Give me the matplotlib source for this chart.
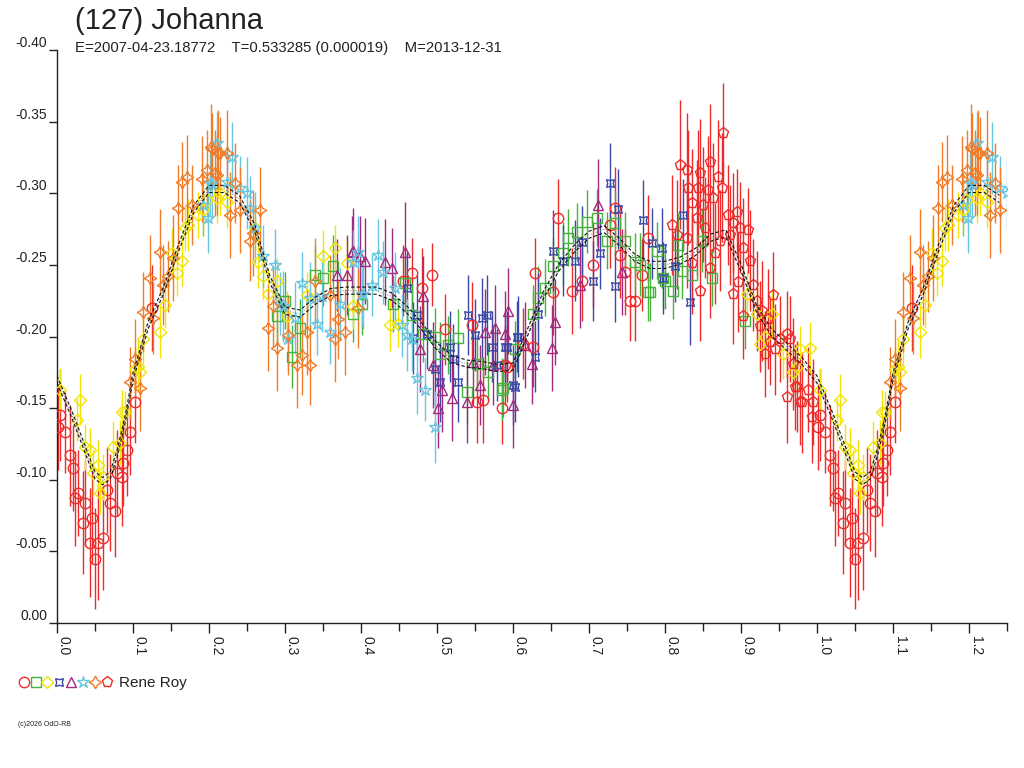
import numpy as np
import matplotlib
matplotlib.use('Agg')
import matplotlib.pyplot as plt
from matplotlib.ticker import FormatStrFormatter, MultipleLocator
from matplotlib.legend_handler import HandlerTuple

# phase, magnitude, error for each session
red_circ_phase = [0.001, 0.004, 0.011, 0.017, 0.021, 0.024, 0.028, 0.034, 0.037, 0.043, 0.046, 0.050,
                  0.054, 0.061, 0.066, 0.070, 0.076, 0.079, 0.086, 0.087, 0.092, 0.096, 0.103, 0.125,
                  0.455, 0.467, 0.480, 0.493, 0.511, 0.546, 0.553, 0.561, 0.586, 0.589, 0.592, 0.613,
                  0.626, 0.629, 0.653, 0.659, 0.678, 0.691, 0.705, 0.728, 0.734, 0.741, 0.747, 0.754,
                  0.761, 0.770, 0.778]
red_circ_mag = [-0.137, -0.145, -0.133, -0.117, -0.108, -0.087, -0.091, -0.070, -0.084, -0.056, -0.073, -0.045,
                -0.056, -0.059, -0.093, -0.084, -0.078, -0.105, -0.102, -0.112, -0.121, -0.133, -0.154, -0.220,
                -0.239, -0.244, -0.234, -0.243, -0.205, -0.208, -0.154, -0.156, -0.150, -0.180, -0.179, -0.195,
                -0.193, -0.244, -0.231, -0.283, -0.232, -0.239, -0.250, -0.278, -0.290, -0.257, -0.245, -0.225,
                -0.225, -0.243, -0.269]
red_circ_err = [0.030, 0.032, 0.028, 0.035, 0.030, 0.033, 0.030, 0.036, 0.030, 0.038, 0.032, 0.035,
                0.040, 0.036, 0.030, 0.034, 0.032, 0.030, 0.034, 0.030, 0.032, 0.030, 0.028, 0.030,
                0.025, 0.025, 0.028, 0.022, 0.025, 0.030, 0.028, 0.030, 0.025, 0.028, 0.025, 0.025,
                0.028, 0.025, 0.030, 0.027, 0.030, 0.028, 0.030, 0.030, 0.028, 0.030, 0.030, 0.028,
                0.028, 0.025, 0.030]

green_phase = [0.289, 0.300, 0.309, 0.320, 0.339, 0.350, 0.363, 0.389, 0.401, 0.442, 0.458, 0.467,
               0.482, 0.497, 0.504, 0.514, 0.528, 0.539, 0.553, 0.567, 0.586, 0.587, 0.603, 0.626,
               0.633, 0.642, 0.653, 0.666, 0.672, 0.684, 0.697, 0.711, 0.724, 0.734, 0.747, 0.761,
               0.767, 0.778, 0.780, 0.789, 0.797, 0.800, 0.811, 0.817, 0.822, 0.836, 0.849, 0.862, 0.905]
green_mag = [-0.214, -0.225, -0.186, -0.206, -0.243, -0.241, -0.249, -0.216, -0.223, -0.223, -0.237, -0.215,
             -0.202, -0.200, -0.188, -0.194, -0.199, -0.161, -0.181, -0.175, -0.163, -0.164, -0.191, -0.216,
             -0.227, -0.234, -0.249, -0.258, -0.269, -0.273, -0.280, -0.283, -0.267, -0.279, -0.267, -0.252,
             -0.250, -0.231, -0.231, -0.260, -0.241, -0.239, -0.232, -0.264, -0.246, -0.243, -0.267, -0.241, -0.211]
green_err = [0.020, 0.020, 0.022, 0.020, 0.020, 0.020, 0.022, 0.020, 0.022, 0.020, 0.020, 0.022,
             0.020, 0.020, 0.022, 0.020, 0.020, 0.022, 0.020, 0.020, 0.022, 0.020, 0.020, 0.020,
             0.022, 0.020, 0.020, 0.022, 0.020, 0.020, 0.022, 0.020, 0.020, 0.022, 0.020, 0.020,
             0.022, 0.020, 0.020, 0.020, 0.022, 0.020, 0.020, 0.022, 0.020, 0.020, 0.022, 0.020, 0.020]

yellow_phase = [0.004, 0.026, 0.030, 0.037, 0.043, 0.047, 0.054, 0.057, 0.061, 0.074, 0.083, 0.086,
                0.089, 0.103, 0.107, 0.109, 0.113, 0.136, 0.142, 0.151, 0.158, 0.164, 0.168, 0.172,
                0.186, 0.192, 0.197, 0.210, 0.214, 0.224, 0.261, 0.264, 0.271, 0.278, 0.289, 0.303,
                0.329, 0.350, 0.366, 0.382, 0.389, 0.438, 0.449, 0.908, 0.921, 0.925, 0.932, 0.941,
                0.955, 0.968, 0.974, 0.978, 0.991]
yellow_mag = [-0.163, -0.142, -0.156, -0.123, -0.121, -0.105, -0.110, -0.091, -0.102, -0.123, -0.126, -0.147,
              -0.147, -0.177, -0.179, -0.175, -0.198, -0.203, -0.222, -0.258, -0.244, -0.253, -0.276, -0.278,
              -0.285, -0.288, -0.295, -0.297, -0.300, -0.294, -0.276, -0.252, -0.242, -0.230, -0.239, -0.214,
              -0.229, -0.256, -0.262, -0.251, -0.221, -0.208, -0.209, -0.230, -0.216, -0.195, -0.200, -0.216,
              -0.188, -0.175, -0.179, -0.191, -0.192]
yellow_err = [0.015, 0.015, 0.018, 0.016, 0.015, 0.016, 0.018, 0.015, 0.016, 0.018, 0.016, 0.016,
              0.015, 0.016, 0.018, 0.016, 0.018, 0.018, 0.016, 0.018, 0.016, 0.018, 0.016, 0.018,
              0.016, 0.018, 0.016, 0.018, 0.016, 0.018, 0.016, 0.018, 0.016, 0.018, 0.016, 0.018,
              0.016, 0.018, 0.016, 0.018, 0.016, 0.018, 0.016, 0.016, 0.018, 0.016, 0.018, 0.016,
              0.018, 0.016, 0.018, 0.016, 0.018]

blue_phase = [0.460, 0.468, 0.474, 0.487, 0.497, 0.504, 0.517, 0.521, 0.528, 0.541, 0.550, 0.559,
              0.566, 0.572, 0.579, 0.589, 0.592, 0.600, 0.603, 0.605, 0.607, 0.629, 0.633, 0.653,
              0.666, 0.682, 0.691, 0.705, 0.714, 0.728, 0.734, 0.738, 0.771, 0.783, 0.796, 0.797,
              0.813, 0.824, 0.833]
blue_mag = [-0.234, -0.199, -0.215, -0.202, -0.177, -0.168, -0.193, -0.184, -0.168, -0.215, -0.201, -0.213,
            -0.215, -0.193, -0.180, -0.193, -0.193, -0.166, -0.165, -0.200, -0.200, -0.186, -0.216, -0.260,
            -0.253, -0.253, -0.266, -0.239, -0.258, -0.307, -0.235, -0.289, -0.281, -0.265, -0.262, -0.241,
            -0.249, -0.285, -0.224]
blue_err = [0.025, 0.025, 0.028, 0.025, 0.025, 0.028, 0.025, 0.025, 0.028, 0.028, 0.025, 0.028,
            0.028, 0.025, 0.025, 0.025, 0.025, 0.028, 0.025, 0.025, 0.028, 0.025, 0.028, 0.028,
            0.025, 0.028, 0.025, 0.028, 0.025, 0.028, 0.025, 0.028, 0.028, 0.025, 0.028, 0.025,
            0.025, 0.025, 0.030]

purple_phase = [0.368, 0.382, 0.388, 0.389, 0.399, 0.405, 0.432, 0.441, 0.458, 0.478, 0.482, 0.495,
                0.501, 0.507, 0.520, 0.539, 0.547, 0.557, 0.563, 0.574, 0.576, 0.589, 0.593, 0.600,
                0.616, 0.625, 0.651, 0.655, 0.688, 0.712, 0.743]
purple_mag = [-0.243, -0.243, -0.259, -0.260, -0.256, -0.253, -0.252, -0.248, -0.259, -0.191, -0.228, -0.180,
              -0.150, -0.163, -0.157, -0.154, -0.182, -0.166, -0.203, -0.180, -0.206, -0.202, -0.218, -0.152,
              -0.194, -0.181, -0.192, -0.210, -0.236, -0.292, -0.245]
purple_err = [0.025, 0.028, 0.025, 0.030, 0.028, 0.030, 0.030, 0.028, 0.035, 0.030, 0.028, 0.030,
              0.028, 0.030, 0.030, 0.028, 0.030, 0.028, 0.030, 0.028, 0.030, 0.030, 0.030, 0.030,
              0.030, 0.028, 0.030, 0.030, 0.030, 0.032, 0.030]

cyan_phase = [0.192, 0.199, 0.201, 0.204, 0.210, 0.224, 0.230, 0.241, 0.250, 0.254, 0.261, 0.271,
              0.287, 0.293, 0.297, 0.304, 0.313, 0.322, 0.333, 0.342, 0.349, 0.359, 0.372, 0.389,
              0.396, 0.401, 0.403, 0.414, 0.422, 0.429, 0.445, 0.454, 0.460, 0.467, 0.474, 0.484, 0.497]
cyan_mag = [-0.292, -0.283, -0.307, -0.307, -0.335, -0.308, -0.325, -0.304, -0.300, -0.290, -0.276, -0.256,
            -0.250, -0.223, -0.221, -0.198, -0.213, -0.237, -0.227, -0.209, -0.228, -0.203, -0.223, -0.252,
            -0.259, -0.230, -0.230, -0.236, -0.257, -0.245, -0.234, -0.208, -0.201, -0.198, -0.171, -0.163, -0.137]
cyan_err = [0.022, 0.025, 0.022, 0.025, 0.022, 0.025, 0.025, 0.022, 0.025, 0.022, 0.025, 0.022,
            0.025, 0.022, 0.025, 0.022, 0.025, 0.022, 0.025, 0.022, 0.025, 0.022, 0.025, 0.022,
            0.025, 0.022, 0.025, 0.022, 0.025, 0.022, 0.025, 0.022, 0.025, 0.022, 0.025, 0.022, 0.025]

orange_phase = [0.096, 0.103, 0.109, 0.113, 0.122, 0.126, 0.136, 0.139, 0.146, 0.153, 0.159, 0.164,
                0.171, 0.178, 0.191, 0.197, 0.203, 0.204, 0.208, 0.210, 0.212, 0.214, 0.224, 0.228,
                0.234, 0.241, 0.254, 0.258, 0.267, 0.278, 0.284, 0.289, 0.304, 0.316, 0.322, 0.329,
                0.333, 0.339, 0.359, 0.366, 0.370, 0.379, 0.396]
orange_mag = [-0.168, -0.184, -0.164, -0.217, -0.241, -0.213, -0.259, -0.236, -0.242, -0.255, -0.290, -0.308,
              -0.311, -0.292, -0.310, -0.316, -0.332, -0.331, -0.314, -0.313, -0.328, -0.328, -0.328, -0.285,
              -0.307, -0.288, -0.267, -0.272, -0.288, -0.206, -0.221, -0.192, -0.201, -0.180, -0.187, -0.203,
              -0.180, -0.239, -0.229, -0.198, -0.212, -0.203, -0.220]
orange_err = [0.025, 0.028, 0.030, 0.028, 0.030, 0.025, 0.030, 0.028, 0.025, 0.030, 0.030, 0.028,
              0.030, 0.028, 0.030, 0.028, 0.030, 0.025, 0.030, 0.028, 0.030, 0.025, 0.030, 0.030,
              0.028, 0.030, 0.028, 0.030, 0.030, 0.030, 0.028, 0.030, 0.028, 0.030, 0.028, 0.030,
              0.028, 0.030, 0.028, 0.030, 0.028, 0.030, 0.028]

red_pent_phase = [0.809, 0.816, 0.820, 0.829, 0.829, 0.830, 0.836, 0.836, 0.842, 0.843, 0.846, 0.846,
                  0.850, 0.853, 0.857, 0.859, 0.859, 0.863, 0.866, 0.870, 0.872, 0.875, 0.876, 0.883,
                  0.886, 0.889, 0.889, 0.895, 0.896, 0.899, 0.903, 0.903, 0.909, 0.912, 0.916, 0.921,
                  0.925, 0.928, 0.932, 0.936, 0.938, 0.942, 0.945, 0.951, 0.961, 0.961, 0.964, 0.968,
                  0.971, 0.974, 0.978, 0.980, 0.988, 0.993, 0.995]
red_pent_mag = [-0.278, -0.271, -0.320, -0.316, -0.269, -0.304, -0.293, -0.251, -0.283, -0.304, -0.314, -0.232,
                -0.292, -0.276, -0.302, -0.322, -0.248, -0.297, -0.258, -0.311, -0.267, -0.304, -0.342, -0.285,
                -0.271, -0.279, -0.230, -0.287, -0.238, -0.276, -0.262, -0.214, -0.274, -0.253, -0.236, -0.225,
                -0.207, -0.218, -0.188, -0.212, -0.196, -0.229, -0.191, -0.198, -0.202, -0.158, -0.198, -0.181,
                -0.165, -0.165, -0.154, -0.154, -0.163, -0.144, -0.154]
red_pent_err = [0.035, 0.038, 0.045, 0.040, 0.035, 0.040, 0.038, 0.035, 0.040, 0.040, 0.038, 0.035,
                0.040, 0.035, 0.038, 0.040, 0.035, 0.038, 0.035, 0.040, 0.035, 0.038, 0.035, 0.035,
                0.035, 0.035, 0.035, 0.030, 0.035, 0.032, 0.035, 0.030, 0.030, 0.035, 0.032, 0.035,
                0.032, 0.035, 0.030, 0.035, 0.030, 0.030, 0.032, 0.030, 0.030, 0.032, 0.030, 0.032,
                0.030, 0.032, 0.030, 0.035, 0.030, 0.032, 0.030]

# fitted light curve
fit_phase = [0.00, 0.02, 0.04, 0.05, 0.06, 0.07, 0.08, 0.09, 0.10, 0.12, 0.14, 0.16, 0.18, 0.20,
             0.22, 0.24, 0.26, 0.28, 0.30, 0.32, 0.34, 0.36, 0.38, 0.40, 0.42, 0.44, 0.46, 0.48,
             0.50, 0.52, 0.54, 0.56, 0.58, 0.60, 0.62, 0.64, 0.66, 0.68, 0.70, 0.72, 0.74, 0.76,
             0.78, 0.80, 0.82, 0.84, 0.86, 0.88, 0.90, 0.92, 0.94, 0.96, 0.98, 1.00]
fit_mag = [-0.170, -0.145, -0.117, -0.103, -0.099, -0.103, -0.120, -0.143, -0.172, -0.208, -0.232, -0.262,
           -0.289, -0.303, -0.303, -0.296, -0.276, -0.240, -0.218, -0.216, -0.225, -0.231, -0.232, -0.232,
           -0.232, -0.228, -0.219, -0.207, -0.193, -0.184, -0.181, -0.180, -0.178, -0.179, -0.204, -0.229,
           -0.248, -0.261, -0.271, -0.275, -0.266, -0.255, -0.250, -0.250, -0.253, -0.259, -0.269, -0.272,
           -0.248, -0.220, -0.203, -0.193, -0.183, -0.170]
fit_spread = 0.0025

sessions = [
    (red_circ_phase, red_circ_mag, red_circ_err, '#ee2b2b', 'o', 7.5),
    (green_phase, green_mag, green_err, '#47b23c', 's', 7),
    (yellow_phase, yellow_mag, yellow_err, '#f2e400', 'D', 6),
    (blue_phase, blue_mag, blue_err, '#3a49a6', (4, 1, 45), 8),
    (purple_phase, purple_mag, purple_err, '#a22a7e', '^', 7.5),
    (cyan_phase, cyan_mag, cyan_err, '#68c6df', '*', 9),
    (orange_phase, orange_mag, orange_err, '#f07c2a', (4, 1, 0), 9),
    (red_pent_phase, red_pent_mag, red_pent_err, '#ee2b2b', 'p', 8),
]

x_max = 1.25


def wrap(phase, *cols):
    # repeat the first quarter of the phase after 1.0
    phase = np.asarray(phase)
    extra = phase <= x_max - 1.0
    out = [np.concatenate([phase, phase[extra] + 1.0])]
    for c in cols:
        c = np.asarray(c)
        out.append(np.concatenate([c, c[extra]]))
    return out


fig = plt.figure(figsize=(10.24, 7.68), dpi=100)
plt.rcParams['font.family'] = ['Liberation Sans', 'DejaVu Sans']
ax = fig.add_axes([57 / 1024, 1 - 623 / 768, 950 / 1024, 573 / 768])

handles = []
for ph, mg, er, color, marker, ms in sessions:
    x, y, e = wrap(ph, mg, er)
    ax.errorbar(x, y, yerr=e, fmt='none', ecolor=color, elinewidth=1, capsize=0, zorder=2)
    h, = ax.plot(x, y, linestyle='none', marker=marker, markersize=ms, markerfacecolor='none',
                 markeredgecolor=color, markeredgewidth=1, zorder=3)
    handles.append(h)

fx, fm = wrap(fit_phase, fit_mag)
order = np.argsort(fx, kind='stable')
fx, fm = fx[order], fm[order]
ax.plot(fx, fm - fit_spread, color='#111111', linestyle=(0, (3, 2)), linewidth=0.8, zorder=4)
ax.plot(fx, fm + fit_spread, color='#111111', linestyle=(0, (3, 2)), linewidth=0.8, zorder=4)
ax.plot(fx, fm, color='#666666', linestyle=(0, (1, 2)), linewidth=0.6, zorder=4)

ax.set_xlim(0, x_max)
ax.set_ylim(0, -0.40)
ax.spines['top'].set_visible(False)
ax.spines['right'].set_visible(False)
for s in ['left', 'bottom']:
    ax.spines[s].set_color('#222222')
    ax.spines[s].set_linewidth(1)

ax.xaxis.set_major_locator(MultipleLocator(0.1))
ax.xaxis.set_minor_locator(MultipleLocator(0.05))
ax.xaxis.set_major_formatter(FormatStrFormatter('%.1f'))
ax.yaxis.set_major_locator(MultipleLocator(0.05))
ax.yaxis.set_major_formatter(FormatStrFormatter('%.2f'))
ax.tick_params(axis='x', which='both', direction='out', length=7, width=1, color='#222222',
               labelsize=10, labelcolor='#222222', pad=2)
ax.tick_params(axis='x', which='minor', length=6)
ax.tick_params(axis='y', direction='out', length=6, width=1, color='#222222',
               labelsize=10, labelcolor='#222222', pad=1)
for lab in ax.get_xticklabels():
    lab.set_rotation(270)
    lab.set_horizontalalignment('left')
    lab.set_verticalalignment('top')
for lab in ax.get_yticklabels():
    lab.set_verticalalignment('bottom')

fig.text(75 / 1024, 1 - 21 / 768, '(127) Johanna', fontsize=21, color='#222222', va='center')
fig.text(75 / 1024, 1 - 48 / 768,
         'E=2007-04-23.18772    T=0.533285 (0.000019)    M=2013-12-31',
         fontsize=10.7, color='#222222', va='center')
fig.text(18 / 1024, 1 - 725 / 768, '(c)2026 OdO-RB', fontsize=5, color='#222222', va='center')

fig.legend([tuple(handles)], ['Rene Roy'], handler_map={tuple: HandlerTuple(ndivide=None, pad=0)},
           loc='center left', bbox_to_anchor=(4 / 1024, 1 - 683 / 768), frameon=False,
           fontsize=11, handlelength=6.2, handletextpad=0.4, labelcolor='#222222')

plt.savefig('out.png', dpi=100)
plt.close()
